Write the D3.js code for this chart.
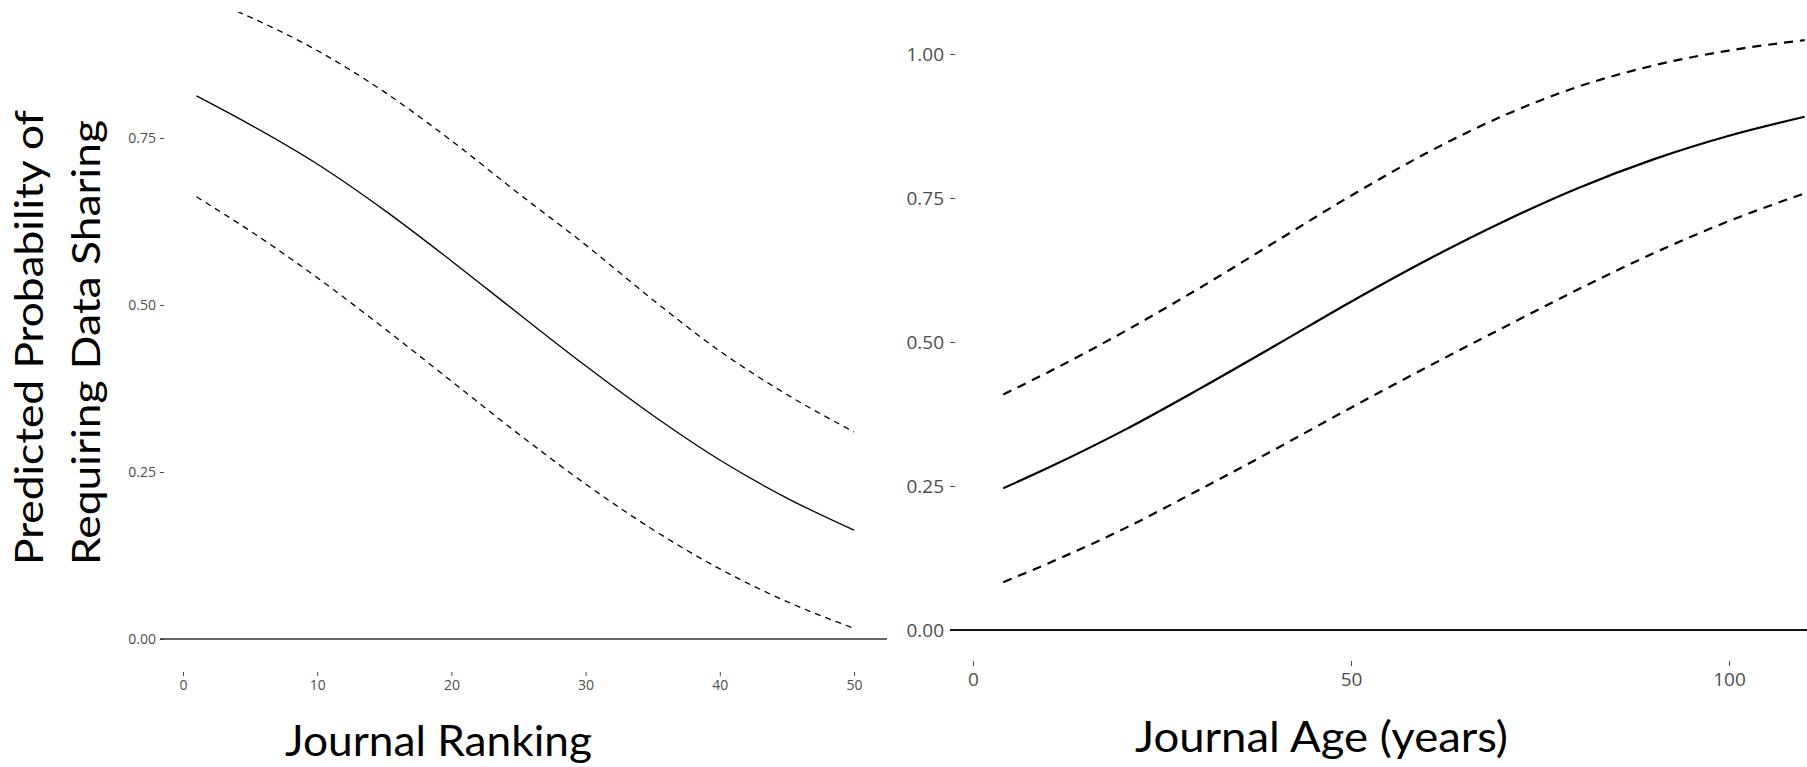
<!DOCTYPE html>
<html>
<head>
<meta charset="utf-8">
<script src="https://d3js.org/d3.v7.min.js"></script>
<style>
    html, body { margin: 0; padding: 0; background: #fff; }
    #chart { width: 1807px; height: 767px; }
    .tick text { font-family: "Open Sans", sans-serif; fill: #4d4d4d; }
    .tick line { stroke: #4d4d4d; }
    .axisTitle { font-family: Lato, "Open Sans", sans-serif; fill: #000; }
</style>
</head>
<body>
<div id="chart"></div>
<script>

/*   DATA   */

// left panel: journal ranking
const rankX     = [1, 5, 10, 15, 20, 25, 30, 35, 40, 45, 50];
const rankFit   = [0.813, 0.770, 0.711, 0.642, 0.566, 0.487, 0.409, 0.335, 0.268, 0.211, 0.163];
const rankUpper = [0.964, 0.931, 0.881, 0.819, 0.746, 0.667, 0.590, 0.508, 0.431, 0.366, 0.310];
const rankLower = [0.662, 0.611, 0.541, 0.465, 0.386, 0.307, 0.232, 0.164, 0.105, 0.056, 0.016];
const rankXTicks = [0, 10, 20, 30, 40, 50];
const rankYTicks = [0, 0.25, 0.5, 0.75];

// right panel: journal age
const ageX     = [4, 10, 20, 30, 40, 50, 60, 70, 80, 90, 100, 110];
const ageFit   = [0.246, 0.282, 0.347, 0.419, 0.494, 0.570, 0.642, 0.708, 0.767, 0.817, 0.858, 0.891];
const ageUpper = [0.409, 0.448, 0.518, 0.594, 0.674, 0.754, 0.828, 0.892, 0.943, 0.980, 1.006, 1.024];
const ageLower = [0.083, 0.116, 0.176, 0.244, 0.314, 0.386, 0.456, 0.524, 0.591, 0.654, 0.710, 0.758];
const ageXTicks = [0, 50, 100];
const ageYTicks = [0, 0.25, 0.5, 0.75, 1];

/*   1. SVG CANVAS   */

const width = 1807;
const height = 767;

const svg = d3.select("#chart")
    .append("svg")
    .attr("width", width)
    .attr("height", height);

svg.append("rect")
    .attr("width", width)
    .attr("height", height)
    .attr("fill", "#fff");

/*   2. PANEL DRAWING   */

function drawPanel(opt) {

    const xScale = d3.scaleLinear()
        .domain(opt.xDomain)
        .range(opt.xRange);

    const yScale = d3.scaleLinear()
        .domain(opt.yDomain)
        .range(opt.yRange);

    const g = svg.append("g");

    // clip the curves to the panel area
    g.append("clipPath")
        .attr("id", opt.id + "-clip")
        .append("rect")
        .attr("x", opt.clip[0])
        .attr("y", opt.clip[1])
        .attr("width", opt.clip[2] - opt.clip[0])
        .attr("height", opt.clip[3] - opt.clip[1]);

    // y axis (no domain line)
    const yAxis = g.append("g")
        .attr("transform", `translate(${opt.yAxisX},0)`)
        .call(d3.axisLeft(yScale)
            .tickValues(opt.yTicks)
            .tickFormat(d3.format(".2f"))
            .tickSize(opt.tickSize)
            .tickPadding(opt.yPad));
    yAxis.select(".domain").remove();
    yAxis.selectAll("text").style("font-size", opt.fontSize + "px");

    // x axis (no domain line)
    const xAxis = g.append("g")
        .attr("transform", `translate(0,${opt.xAxisY})`)
        .call(d3.axisBottom(xScale)
            .tickValues(opt.xTicks)
            .tickFormat(d3.format("d"))
            .tickSize(opt.tickSize)
            .tickPadding(opt.xPad));
    xAxis.select(".domain").remove();
    xAxis.selectAll("text").style("font-size", opt.fontSize + "px");

    // horizontal reference line at 0
    g.append("line")
        .attr("x1", opt.zeroLine[0])
        .attr("x2", opt.zeroLine[1])
        .attr("y1", yScale(0))
        .attr("y2", yScale(0))
        .attr("stroke", opt.zeroColor)
        .attr("stroke-width", opt.zeroWidth);

    const line = d3.line()
        .x(function(d) { return xScale(d[0]); })
        .y(function(d) { return yScale(d[1]); })
        .curve(d3.curveMonotoneX);

    const series = [
        { values: opt.upper, dash: opt.dash },
        { values: opt.lower, dash: opt.dash },
        { values: opt.fit, dash: null }
    ];

    g.append("g")
        .attr("clip-path", `url(#${opt.id}-clip)`)
        .selectAll("path")
        .data(series)
        .enter()
        .append("path")
            .attr("d", function(s) { return line(d3.zip(opt.x, s.values)); })
            .attr("fill", "none")
            .attr("stroke", "#000")
            .attr("stroke-width", opt.lineWidth)
            .attr("stroke-dasharray", function(s) { return s.dash; });
}

drawPanel({
    id: "rank",
    x: rankX, fit: rankFit, upper: rankUpper, lower: rankLower,
    xDomain: [0, 50], xRange: [183, 854],
    yDomain: [0, 0.75], yRange: [639, 138],
    xTicks: rankXTicks, yTicks: rankYTicks,
    yAxisX: 164, xAxisY: 672,
    tickSize: 4, yPad: 4, xPad: 4,
    fontSize: 14,
    zeroLine: [160, 887], zeroColor: "#333", zeroWidth: 1.6,
    clip: [160, 12, 890, 700],
    lineWidth: 1.3, dash: "6,5"
});

drawPanel({
    id: "age",
    x: ageX, fit: ageFit, upper: ageUpper, lower: ageLower,
    xDomain: [0, 100], xRange: [973, 1729],
    yDomain: [0, 1], yRange: [630, 54],
    xTicks: ageXTicks, yTicks: ageYTicks,
    yAxisX: 955, xAxisY: 661,
    tickSize: 5, yPad: 6, xPad: 7,
    fontSize: 19,
    zeroLine: [950, 1807], zeroColor: "#111", zeroWidth: 2.2,
    clip: [950, 0, 1807, 700],
    lineWidth: 2.2, dash: "9,7"
});

/*   3. AXIS TITLES   */

const yTitle = svg.append("text")
    .attr("class", "axisTitle")
    .attr("transform", "rotate(-90)")
    .style("font-size", "39px");

yTitle.append("tspan")
    .attr("x", -565)
    .attr("y", 43)
    .attr("textLength", 455)
    .attr("lengthAdjust", "spacingAndGlyphs")
    .text("Predicted Probability of");

yTitle.append("tspan")
    .attr("x", -565)
    .attr("y", 100)
    .attr("textLength", 445)
    .attr("lengthAdjust", "spacingAndGlyphs")
    .text("Requiring Data Sharing");

svg.append("text")
    .attr("class", "axisTitle")
    .attr("x", 285)
    .attr("y", 756)
    .attr("textLength", 307)
    .attr("lengthAdjust", "spacingAndGlyphs")
    .style("font-size", "43px")
    .text("Journal Ranking");

svg.append("text")
    .attr("class", "axisTitle")
    .attr("x", 1135)
    .attr("y", 752)
    .attr("textLength", 373)
    .attr("lengthAdjust", "spacingAndGlyphs")
    .style("font-size", "42px")
    .text("Journal Age (years)");

</script>
</body>
</html>
